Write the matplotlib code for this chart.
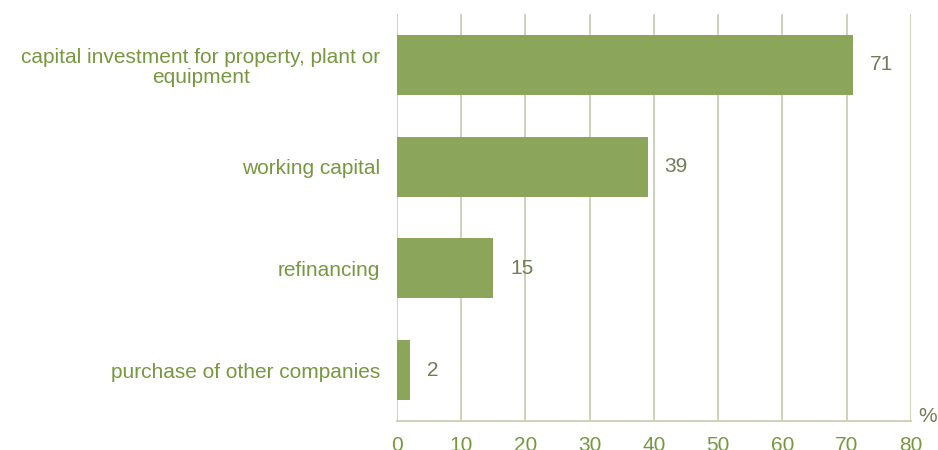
import matplotlib
matplotlib.use("Agg")
import matplotlib.pyplot as plt

plt.rcParams['font.family'] = ['Liberation Sans', 'DejaVu Sans']

categories = [
    "capital investment for property, plant or\nequipment",
    "working capital",
    "refinancing",
    "purchase of other companies",
]
values = [71, 39, 15, 2]
xticks = [0, 10, 20, 30, 40, 50, 60, 70, 80]

bar_color = "#8ba55a"
text_color = "#77983f"
value_color = "#6f7f55"
grid_color = "#c9cfb3"
fs = 15

fig = plt.figure(figsize=(9.38, 4.5), dpi=100)
ax = fig.add_axes([0.4232, 1 - 421 / 450, 0.5480, (421 - 14) / 450])

ypos = list(range(len(categories)))[::-1]
ax.barh(ypos, values, height=0.59, color=bar_color, zorder=3)

for y, v in zip(ypos, values):
    ax.text(v + 2.6, y, f"{v}", va="center", ha="left",
            fontsize=fs, color=value_color, zorder=4)

ax.set_xlim(0, 80)
ax.set_ylim(-0.5, 3.5)
ax.set_xticks(xticks)
ax.set_xticklabels([str(t) for t in xticks])
ax.set_yticks(ypos)
ax.set_yticklabels(categories, multialignment="center", linespacing=1.05)

ax.grid(axis="x", color=grid_color, linewidth=1.3, zorder=0)
for s in ["top", "right", "left"]:
    ax.spines[s].set_visible(False)
ax.spines["bottom"].set_color(grid_color)
ax.spines["bottom"].set_linewidth(1.3)

ax.tick_params(axis="x", length=0, pad=11, labelsize=fs, labelcolor=text_color)
ax.tick_params(axis="y", length=0, pad=12, labelsize=fs, labelcolor=text_color)

fig.text(928 / 938, 1 - 416 / 450, "%", ha="center", va="center",
         fontsize=fs, color=value_color)

fig.savefig("out.png", dpi=100)
